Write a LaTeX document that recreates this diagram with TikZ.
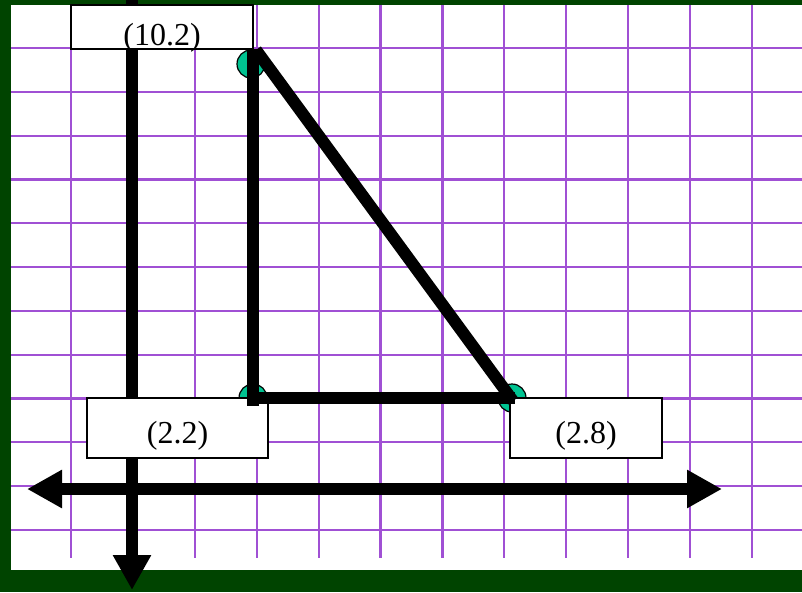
\documentclass[tikz,border=0pt]{standalone}
\usepackage{fontspec}
\setmainfont{Liberation Serif}
\usetikzlibrary{arrows.meta}
\definecolor{boardgreen}{RGB}{0,68,0}
\definecolor{gridpurple}{RGB}{160,80,212}
\definecolor{dotgreen}{RGB}{0,195,145}

\begin{document}
\begin{tikzpicture}[x=1pt,y=-1pt,
  >={Triangle[length=35pt,width=36pt]},
  axis/.style={line width=12pt},
  leg/.style={line width=12pt},
  vertex/.style={draw=black, line width=1.2pt, fill=dotgreen},
  lbl/.style={draw=black, line width=1.4pt, fill=white, inner xsep=0pt,
    inner ysep=0pt, anchor=base, font=\fontsize{32}{38}\selectfont}]

  \useasboundingbox (0,0) rectangle (802,592);

  % Board
  \fill[boardgreen] (0,0) rectangle (802,592);
  \fill[white] (11,5) rectangle (802,570);

  % Grid
  \foreach \i in {0,...,11} {
    \draw[gridpurple, line width=2.2pt] (71+61.9*\i,5) -- (71+61.9*\i,558);
    \draw[gridpurple, line width=2.2pt] (11,48+43.8*\i) -- (802,48+43.8*\i);
  }

  % Axes
  \coordinate (ytop) at (132,0);
  \coordinate (ybot) at (132,590);
  \coordinate (xleft) at (27,489);
  \coordinate (xright) at (722,489);
  \draw[axis,->] (ytop) -- (ybot);
  \draw[axis,<->] (xleft) -- (xright);

  % Vertices
  \coordinate (A) at (253,49);    % top
  \coordinate (B) at (253,398);   % right angle
  \coordinate (C) at (512,398);
  \draw[vertex] (251,64) circle (14);
  \draw[vertex] (B) circle (14);
  \draw[vertex] (C) circle (14);

  % Labels
  \node[lbl, minimum width=182pt, text height=40pt, text depth=4pt] (ptop) at (162,45) {(10.2)};
  \node[lbl, minimum width=181pt, text height=45pt, text depth=15pt] (pleft) at (177.5,443) {(2.2)};
  \node[lbl, minimum width=152pt, text height=45pt, text depth=15pt] (pright) at (586,443) {(2.8)};

  % Triangle
  \draw[leg] (A) -- (253,406);
  \draw[leg] (B) -- (515,398);
  \draw[leg] (256,50) -- (513,401);

\end{tikzpicture}
\end{document}
